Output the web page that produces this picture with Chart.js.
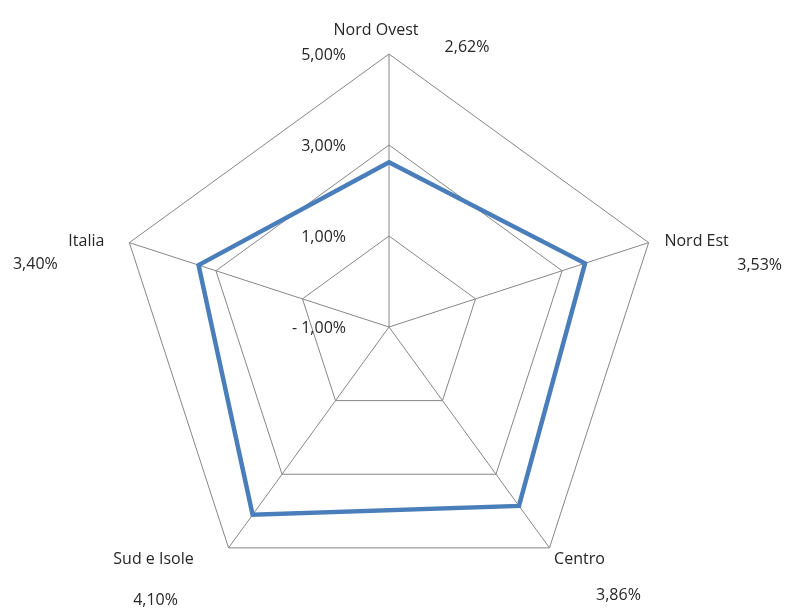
<!DOCTYPE html>
<html>
<head>
<meta charset="utf-8">
<script src="https://cdn.jsdelivr.net/npm/chart.js@4/dist/chart.umd.min.js"></script>
<style>
  html, body { margin: 0; padding: 0; background: #ffffff; }
  #wrap { width: 787px; height: 609px; position: relative; }
</style>
</head>
<body>
<div id="wrap"><canvas id="c" width="787" height="609"></canvas></div>
<script>
// Regions and their percentage values
const categories = ['Nord Ovest', 'Nord Est', 'Centro', 'Sud e Isole', 'Italia'];
const values = [2.62, 3.53, 3.86, 4.10, 3.40];
const tickValues = [-1, 1, 3, 5];

const FONT = '16px "Open Sans", "Liberation Sans", sans-serif';
const TEXT_COLOR = '#262626';

function fmt(v) {
  return v.toFixed(2).replace('.', ',') + '%';
}

// Offsets (px) of category name and value label from each outer vertex
const nameOffsets = [[-13, -24], [48, -1], [30, 12], [-75, 12], [-43, -1]];
const valueOffsets = [[78, -7], [111, 23], [69, 48], [-73, 53], [-94, 22]];

const labelPlugin = {
  id: 'radarLabels',
  afterDraw(chart) {
    const scale = chart.scales.r;
    const ctx = chart.ctx;
    ctx.save();
    ctx.font = FONT;
    ctx.fillStyle = TEXT_COLOR;
    ctx.textBaseline = 'middle';
    // tick labels, right-aligned to the left of the vertical axis
    ctx.textAlign = 'right';
    tickValues.forEach(t => {
      const d = scale.getDistanceFromCenterForValue(t);
      ctx.fillText(fmt(t).replace('-', '- '), scale.xCenter - 43, scale.yCenter - d + 1);
    });
    // category names and values
    ctx.textAlign = 'center';
    categories.forEach((name, i) => {
      const p = scale.getPointPosition(i, scale.drawingArea);
      ctx.fillText(name, p.x + nameOffsets[i][0], p.y + nameOffsets[i][1]);
      ctx.fillText(fmt(values[i]), p.x + valueOffsets[i][0], p.y + valueOffsets[i][1]);
    });
    ctx.restore();
  }
};

new Chart(document.getElementById('c'), {
  type: 'radar',
  data: {
    labels: categories,
    datasets: [{
      data: values,
      borderColor: '#4a7ebb',
      borderWidth: 4.5,
      fill: false,
      pointRadius: 0,
      pointHoverRadius: 0,
      tension: 0
    }]
  },
  options: {
    responsive: false,
    animation: false,
    devicePixelRatio: 1,
    layout: { padding: { top: 54, bottom: 9, left: 116, right: 125 } },
    plugins: { legend: { display: false }, tooltip: { enabled: false } },
    elements: { line: { borderJoinStyle: 'miter' } },
    scales: {
      r: {
        min: -1,
        max: 5,
        ticks: { stepSize: 2, display: false },
        pointLabels: { display: false },
        grid: { color: '#868686', lineWidth: 1 },
        angleLines: { color: '#868686', lineWidth: 1 }
      }
    }
  },
  plugins: [labelPlugin]
});
</script>
</body>
</html>
